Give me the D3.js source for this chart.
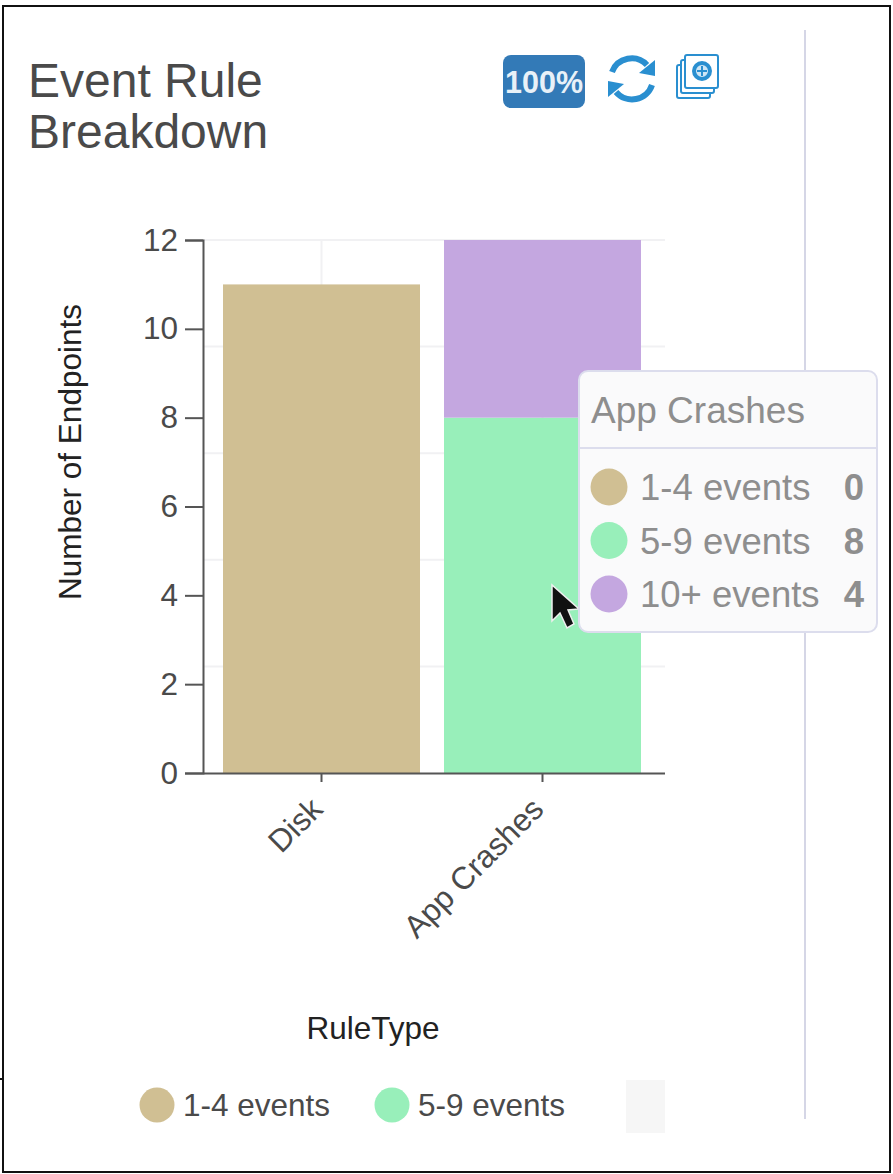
<!DOCTYPE html>
<html>
<head>
<meta charset="utf-8">
<style>
  html, body { margin: 0; padding: 0; background: #fff; }
  svg { display: block; }
  text { font-family: "Liberation Sans", Arial, sans-serif; }
</style>
<script src="https://cdn.jsdelivr.net/npm/d3@7"></script>
</head>
<body>
<svg id="chart" width="893" height="1174"></svg>
<script>
const categories = ["Disk", "App Crashes"];
const seriesNames = ["1-4 events", "5-9 events", "10+ events"];
const seriesColors = ["#d0bf93", "#98efba", "#c4a7e0"];
const events1to4 = [11, 0];
const events5to9 = [0, 8];
const events10plus = [0, 4];
const yTicks = [0, 2, 4, 6, 8, 10, 12];
const gridValues = [2.4, 4.8, 7.2, 9.6, 12];
const legendNames = ["1-4 events", "5-9 events"];
const tooltipCategory = "App Crashes";

const svg = d3.select("#chart");
const axisInk = "#555", textInk = "#4a4a4a";

// Page frame and side divider
svg.append("rect").attr("x", 3).attr("y", 6).attr("width", 887).attr("height", 1166)
  .attr("fill", "none").attr("stroke", "#111").attr("stroke-width", 2);
svg.append("line").attr("x1", 0).attr("x2", 3).attr("y1", 1079).attr("y2", 1079)
  .attr("stroke", "#111").attr("stroke-width", 2);
svg.append("line").attr("x1", 805).attr("x2", 805).attr("y1", 30).attr("y2", 1119)
  .attr("stroke", "#d5d6e6").attr("stroke-width", 2);

// Title
const title = svg.append("text").attr("fill", textInk).attr("font-size", 48);
title.append("tspan").attr("x", 28).attr("y", 97).text("Event Rule");
title.append("tspan").attr("x", 28).attr("y", 148).text("Breakdown");

// Toolbar icons
const toolbar = svg.append("g");
const iconBlue = "#2a8fd0";
toolbar.append("rect").attr("x", 503).attr("y", 55).attr("width", 82).attr("height", 53).attr("rx", 8).attr("fill", "#337ab7");
toolbar.append("text").attr("x", 544).attr("y", 93).attr("text-anchor", "middle")
  .attr("font-size", 31).attr("font-weight", "bold").attr("fill", "#e8f1f8")
  .attr("textLength", 78).attr("lengthAdjust", "spacingAndGlyphs").text("100%");
const refresh = toolbar.append("g").attr("fill", "none").attr("stroke", iconBlue).attr("stroke-width", 6);
refresh.append("path").attr("d", "M612,72 A21,21 0 0 1 647,65");
refresh.append("path").attr("d", "M652,85 A21,21 0 0 1 616,92");
toolbar.append("path").attr("d", "M655,60 L655,76 L639,73 Z").attr("fill", iconBlue);
toolbar.append("path").attr("d", "M608,97 L608,81 L624,84 Z").attr("fill", iconBlue);
const stack = toolbar.append("g").attr("fill", "#fff").attr("stroke", iconBlue).attr("stroke-width", 2);
stack.append("rect").attr("x", 677).attr("y", 65).attr("width", 33).attr("height", 33).attr("rx", 2);
stack.append("rect").attr("x", 681).attr("y", 60).attr("width", 33).attr("height", 33).attr("rx", 2);
stack.append("rect").attr("x", 685).attr("y", 55).attr("width", 33).attr("height", 33).attr("rx", 2);
stack.append("circle").attr("cx", 702).attr("cy", 71).attr("r", 8).attr("fill", "#cfe6f5").attr("stroke-width", 4);
stack.append("path").attr("d", "M697,71 H707 M702,66 V76").attr("stroke-width", 2);

// Scales
const x = d3.scaleBand().domain(categories).range([203, 661]).paddingInner(24 / 221).paddingOuter(20 / 221);
const y = d3.scaleLinear().domain([0, 12]).range([773, 240]);

// Grid
const grid = svg.append("g").attr("stroke", "#f1f1f3").attr("stroke-width", 2);
grid.selectAll(".h").data(gridValues).join("line")
  .attr("x1", 203).attr("x2", 665).attr("y1", d => y(d)).attr("y2", d => y(d));
grid.selectAll(".v").data(categories).join("line")
  .attr("x1", d => x(d) + x.bandwidth() / 2).attr("x2", d => x(d) + x.bandwidth() / 2)
  .attr("y1", y(12)).attr("y2", y(0));

// Stacked bars
const rows = categories.map((c, i) => ({
  category: c,
  [seriesNames[0]]: events1to4[i],
  [seriesNames[1]]: events5to9[i],
  [seriesNames[2]]: events10plus[i]
}));
const layers = d3.stack().keys(seriesNames)(rows);
svg.append("g").selectAll("g").data(layers).join("g")
  .attr("fill", (d, i) => seriesColors[i])
  .selectAll("rect").data(d => d.filter(p => p[1] > p[0])).join("rect")
  .attr("x", d => x(d.data.category))
  .attr("width", x.bandwidth())
  .attr("y", d => y(d[1]))
  .attr("height", d => y(d[0]) - y(d[1]));

// Axes
const labelSize = 31.5;
const styleAxis = g => {
  g.selectAll("path, line").attr("stroke", axisInk).attr("stroke-width", 2);
  g.selectAll("text").attr("fill", textInk).attr("font-size", labelSize).attr("font-family", '"Liberation Sans", Arial, sans-serif');
};
const yAxis = svg.append("g").attr("transform", "translate(203,0)")
  .call(d3.axisLeft(y).tickValues(yTicks).tickSize(18).tickSizeOuter(18).tickPadding(7));
styleAxis(yAxis);
yAxis.selectAll("text").attr("dy", "0.32em");

const xAxis = svg.append("g").attr("transform", "translate(0,773)")
  .call(d3.axisBottom(x).tickSize(9).tickSizeOuter(0));
styleAxis(xAxis);
// The domain runs the full plot width, a little past the band range
xAxis.select(".domain").attr("d", "M203,0.5H665");
xAxis.selectAll("text")
  .attr("text-anchor", "end")
  .attr("dx", 0).attr("dy", 0)
  .attr("x", 0).attr("y", 0)
  .attr("transform", "translate(3,38) rotate(-45)");

// Axis titles
svg.append("text").attr("transform", "translate(81,452) rotate(-90)").attr("text-anchor", "middle")
  .attr("font-size", labelSize).attr("fill", "#222").text("Number of Endpoints");
svg.append("text").attr("x", 373).attr("y", 1039).attr("text-anchor", "middle")
  .attr("font-size", labelSize).attr("fill", "#222").text("RuleType");

// Legend
const legendX = [157, 392];
const legend = svg.append("g").selectAll("g").data(legendNames).join("g")
  .attr("transform", (d, i) => `translate(${legendX[i]},1105)`);
legend.append("circle").attr("r", 17.5).attr("fill", (d, i) => seriesColors[i]);
legend.append("text").attr("x", 26).attr("y", 11).attr("font-size", labelSize).attr("fill", textInk).text(d => d);
svg.append("rect").attr("x", 626).attr("y", 1080).attr("width", 39).attr("height", 53).attr("fill", "#f6f6f6");

// Pointer under the tooltip edge
svg.append("path")
  .attr("d", "M552,585 L552,621 L560,613 L567,628 L574,624 L568,610 L579,609 Z")
  .attr("fill", "#111").attr("stroke", "#eee").attr("stroke-width", 1.5);

// Hover tooltip
const tip = svg.append("g");
tip.append("rect").attr("x", 579).attr("y", 371).attr("width", 298).attr("height", 261).attr("rx", 9)
  .attr("fill", "#fafafb").attr("stroke", "#dcdded").attr("stroke-width", 2);
tip.append("line").attr("x1", 579).attr("x2", 877).attr("y1", 448).attr("y2", 448)
  .attr("stroke", "#dcdded").attr("stroke-width", 2);
tip.append("text").attr("x", 591).attr("y", 423).attr("font-size", 37).attr("fill", "#8e8e8e").text(tooltipCategory);
const hoverIndex = categories.indexOf(tooltipCategory);
const hoverValues = [events1to4[hoverIndex], events5to9[hoverIndex], events10plus[hoverIndex]];
const tipRow = d3.scaleLinear().domain([0, 2]).range([487, 594]);
const tipRows = tip.selectAll(".row").data(seriesNames).join("g")
  .attr("transform", (d, i) => `translate(0,${tipRow(i)})`);
tipRows.append("circle").attr("cx", 609).attr("r", 18.5).attr("fill", (d, i) => seriesColors[i]);
tipRows.append("text").attr("x", 640).attr("y", 13).attr("font-size", 36.5).attr("fill", "#8e8e8e").text(d => d);
tipRows.append("text").attr("x", 864).attr("y", 13).attr("text-anchor", "end").attr("font-size", 36.5)
  .attr("font-weight", "bold").attr("fill", "#8e8e8e").text((d, i) => hoverValues[i]);
</script>
</body>
</html>
